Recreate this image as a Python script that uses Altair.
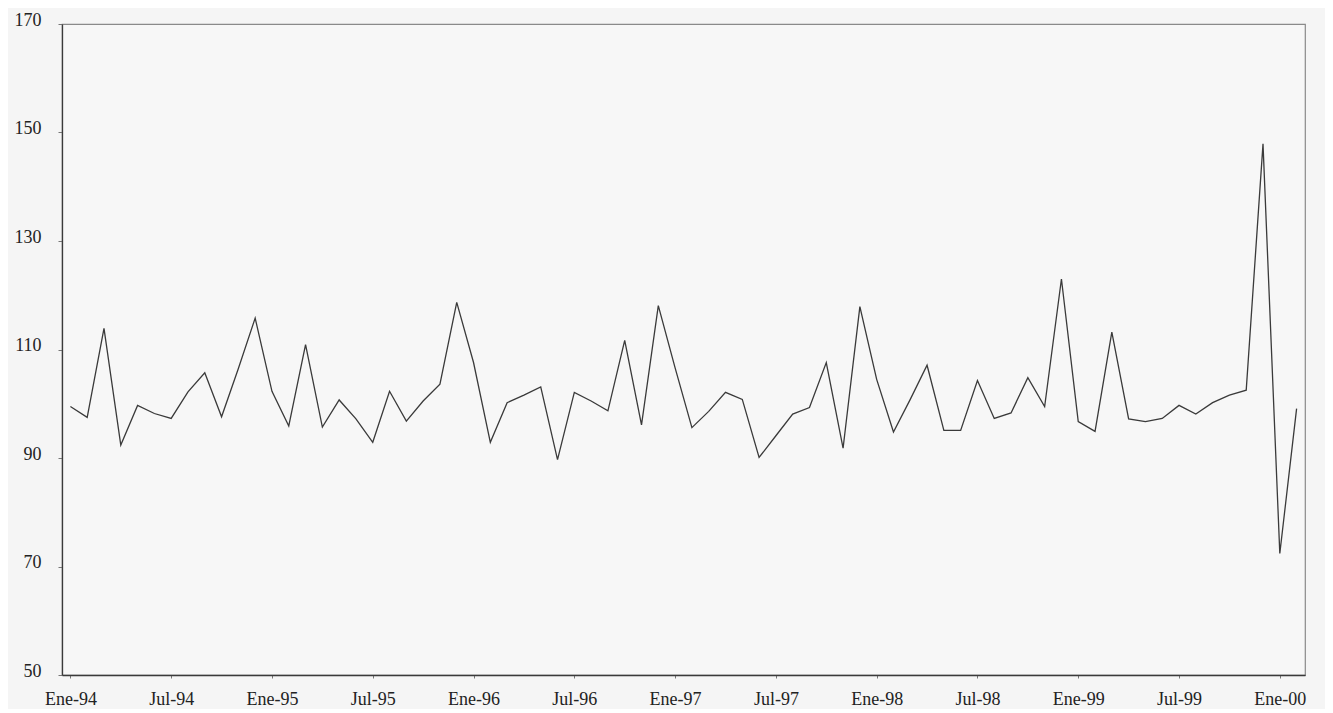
import altair as alt
import pandas as pd

# Monthly index values, Ene-94 .. Feb-00
values = [
    99.5, 97.5, 113.9, 92.4, 99.7, 98.2, 97.3, 102.2, 105.7, 97.6, 106.5, 115.8,
    102.3, 95.9, 110.9, 95.7, 100.7, 97.2, 92.9, 102.3, 96.8, 100.5, 103.6, 118.7,
    107.6, 92.9, 100.2, 101.6, 103.1, 89.7, 102.1, 100.5, 98.7, 111.7, 96.1, 118.1,
    106.6, 95.6, 98.6, 102.1, 100.8, 90.1, 94.1, 98.1, 99.3, 107.6, 91.8, 117.9,
    104.5, 94.8, 100.8, 107.1, 95.1, 95.1, 104.3, 97.3, 98.3, 104.8, 99.5, 123.0,
    96.7, 94.9, 113.2, 97.2, 96.7, 97.3, 99.7, 98.1, 100.2, 101.6, 102.5, 147.9,
    72.4, 99.1,
]
tick_labels = ["Ene-94", "Jul-94", "Ene-95", "Jul-95", "Ene-96", "Jul-96", "Ene-97",
               "Jul-97", "Ene-98", "Jul-98", "Ene-99", "Jul-99", "Ene-00"]
tick_positions = [0, 6, 12, 18, 24, 30, 36, 42, 48, 54, 60, 66, 72]
y_ticks = [50, 70, 90, 110, 130, 150, 170]

df = pd.DataFrame({"t": list(range(len(values))), "v": values})
label_expr = "[" + ",".join(f"'{s}'" for s in tick_labels) + "][round(datum.value/6)]"

FONT = "Liberation Serif"

chart = alt.Chart(df).mark_line(color="#3a3a3a", strokeWidth=1.3).encode(
    x=alt.X("t:Q",
            scale=alt.Scale(domain=[-0.5, 73.5], nice=False, zero=False),
            axis=alt.Axis(values=tick_positions, labelExpr=label_expr, grid=False, title=None,
                          domainColor="#3a3a3a", domainWidth=1.3, tickColor="#777", tickSize=3,
                          labelPadding=12, labelFont=FONT, labelFontSize=18, labelColor="#222",
                          labelFlush=False, labelOverlap=False)),
    y=alt.Y("v:Q",
            scale=alt.Scale(domain=[50, 170], nice=False, zero=False),
            axis=alt.Axis(values=y_ticks, grid=False, title=None,
                          domainColor="#3a3a3a", domainWidth=1.3, tickColor="#777", tickSize=4,
                          labelPadding=17, labelFont=FONT, labelFontSize=18, labelColor="#222",
                          labelOffset=-4, labelFlush=False, labelOverlap=False)),
).properties(
    width=1243, height=651,
    autosize=alt.AutoSizeParams(type="none"),
    padding={"left": 54, "top": 16, "right": 20, "bottom": 34},
    background="#f5f5f5",
).configure_view(stroke="#8a8a8a", strokeWidth=1.2, fill="#f7f7f7")

chart.save("out.html", embed_options={"renderer": "svg", "actions": False})
